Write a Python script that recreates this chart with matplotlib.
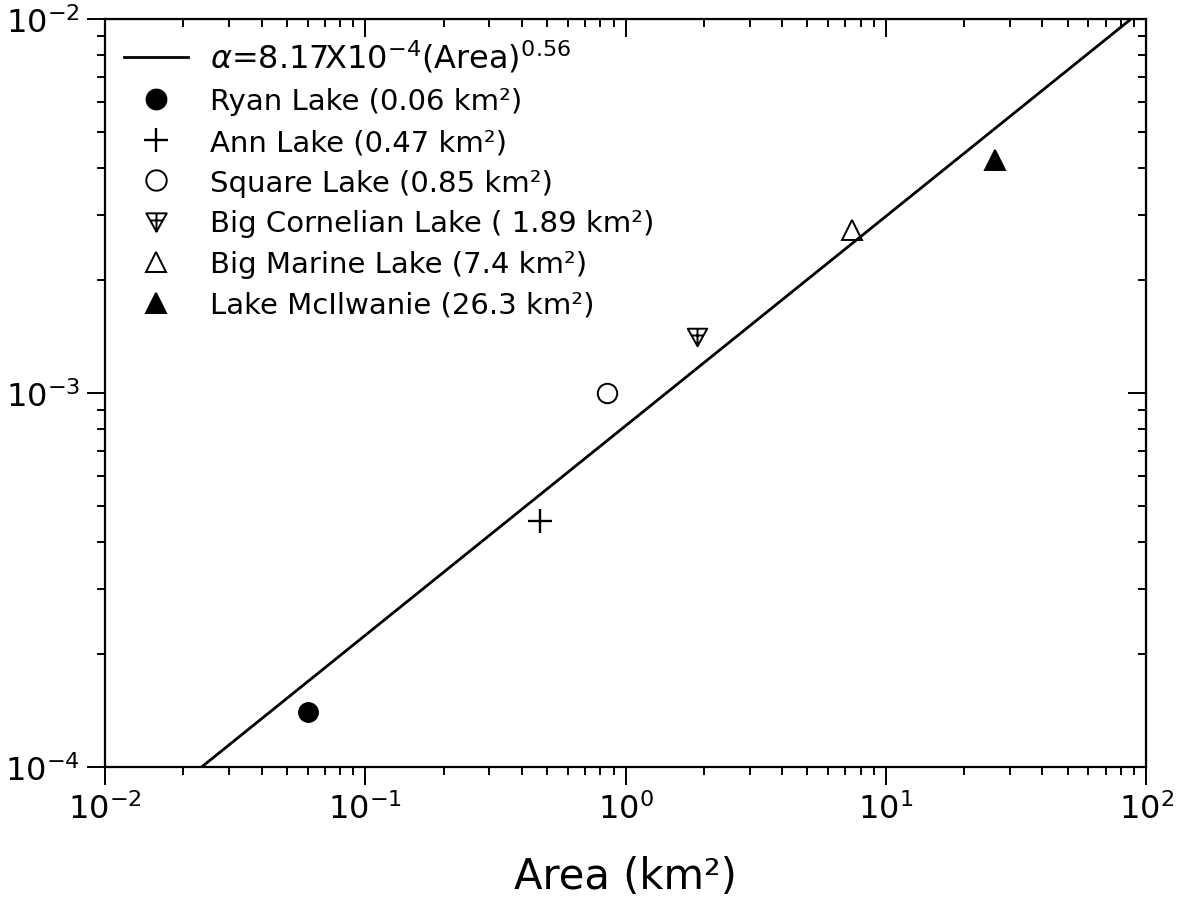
import numpy as np
import matplotlib
matplotlib.use("Agg")
import matplotlib.pyplot as plt
from matplotlib.path import Path

plt.rcParams['font.family'] = ['DejaVu Sans']
plt.rcParams['mathtext.fontset'] = 'dejavusans'

# data
lakes = ["Ryan Lake (0.06 km²)", "Ann Lake (0.47 km²)", "Square Lake (0.85 km²)",
         "Big Cornelian Lake ( 1.89 km²)", "Big Marine Lake (7.4 km²)",
         "Lake McIlwanie (26.3 km²)"]
area = [0.06, 0.47, 0.85, 1.89, 7.4, 26.3]
alpha_vals = [1.40e-4, 4.55e-4, 1.00e-3, 1.42e-3, 2.72e-3, 4.20e-3]
fit_coef = 8.17e-4
fit_exp = 0.56
fit_label = r"$\alpha$=8.17X10$^{-4}$(Area)$^{0.56}$"

# custom marker: down-pointing triangle with a cross inside
verts = [(-1, 0.8), (1, 0.8), (0, -1), (-1, 0.8),
         (-0.62, 0.1), (0.62, 0.1),
         (0, 0.8), (0, -1)]
codes = [Path.MOVETO, Path.LINETO, Path.LINETO, Path.CLOSEPOLY,
         Path.MOVETO, Path.LINETO,
         Path.MOVETO, Path.LINETO]
tri_cross = Path(verts, codes)

styles = [
    dict(marker='o', mfc='black', mec='black', ms=14),
    dict(marker='+', mfc='none', mec='black', ms=17, mew=1.7),
    dict(marker='o', mfc='none', mec='black', ms=14, mew=1.4),
    dict(marker=tri_cross, mfc='none', mec='black', ms=14, mew=1.4),
    dict(marker='^', mfc='none', mec='black', ms=14, mew=1.4),
    dict(marker='^', mfc='black', mec='black', ms=14, mew=1.4),
]

fig = plt.figure(figsize=(11.77, 9.04), dpi=100)
ax = fig.add_axes([0.0892, 0.1504, 0.8845, 0.8275])
ax.set_xscale('log')
ax.set_yscale('log')
ax.set_xlim(1e-2, 1e2)
ax.set_ylim(1e-4, 1e-2)

xs = np.array([1e-2, 1e2])
ax.plot(xs, fit_coef * xs ** fit_exp, color='black', lw=2.0, label=fit_label)
for name, a, v, st in zip(lakes, area, alpha_vals, styles):
    ax.plot([a], [v], linestyle='none', label=name, **st)

for s in ax.spines.values():
    s.set_linewidth(1.6)

# bottom / left ticks point outward
ax.tick_params(which='both', bottom=True, left=True, top=False, right=False,
               direction='out', width=1.4)
ax.tick_params(which='major', length=13, pad=5, labelsize=23)
ax.tick_params(which='minor', length=6)
# top / right ticks point inward
ax2 = ax.secondary_xaxis('top')
ax2.tick_params(which='both', direction='in', width=1.4, labeltop=False)
ax2.tick_params(which='major', length=13)
ax2.tick_params(which='minor', length=6)
ax3 = ax.secondary_yaxis('right')
ax3.tick_params(which='both', direction='in', width=1.4, labelright=False)
ax3.tick_params(which='major', length=13)
ax3.tick_params(which='minor', length=6)

ax.set_xlabel("Area (km²)", fontsize=30, labelpad=21.5)

leg = ax.legend(loc='upper left', frameon=False,
                prop={'family': 'DejaVu Sans', 'size': 21},
                handlelength=2.2, handletextpad=0.75, labelspacing=0.435,
                borderaxespad=0.3, borderpad=0.35, markerscale=1.05)
leg.get_texts()[0].set_fontsize(23)

fig.savefig("out.png", dpi=100)
